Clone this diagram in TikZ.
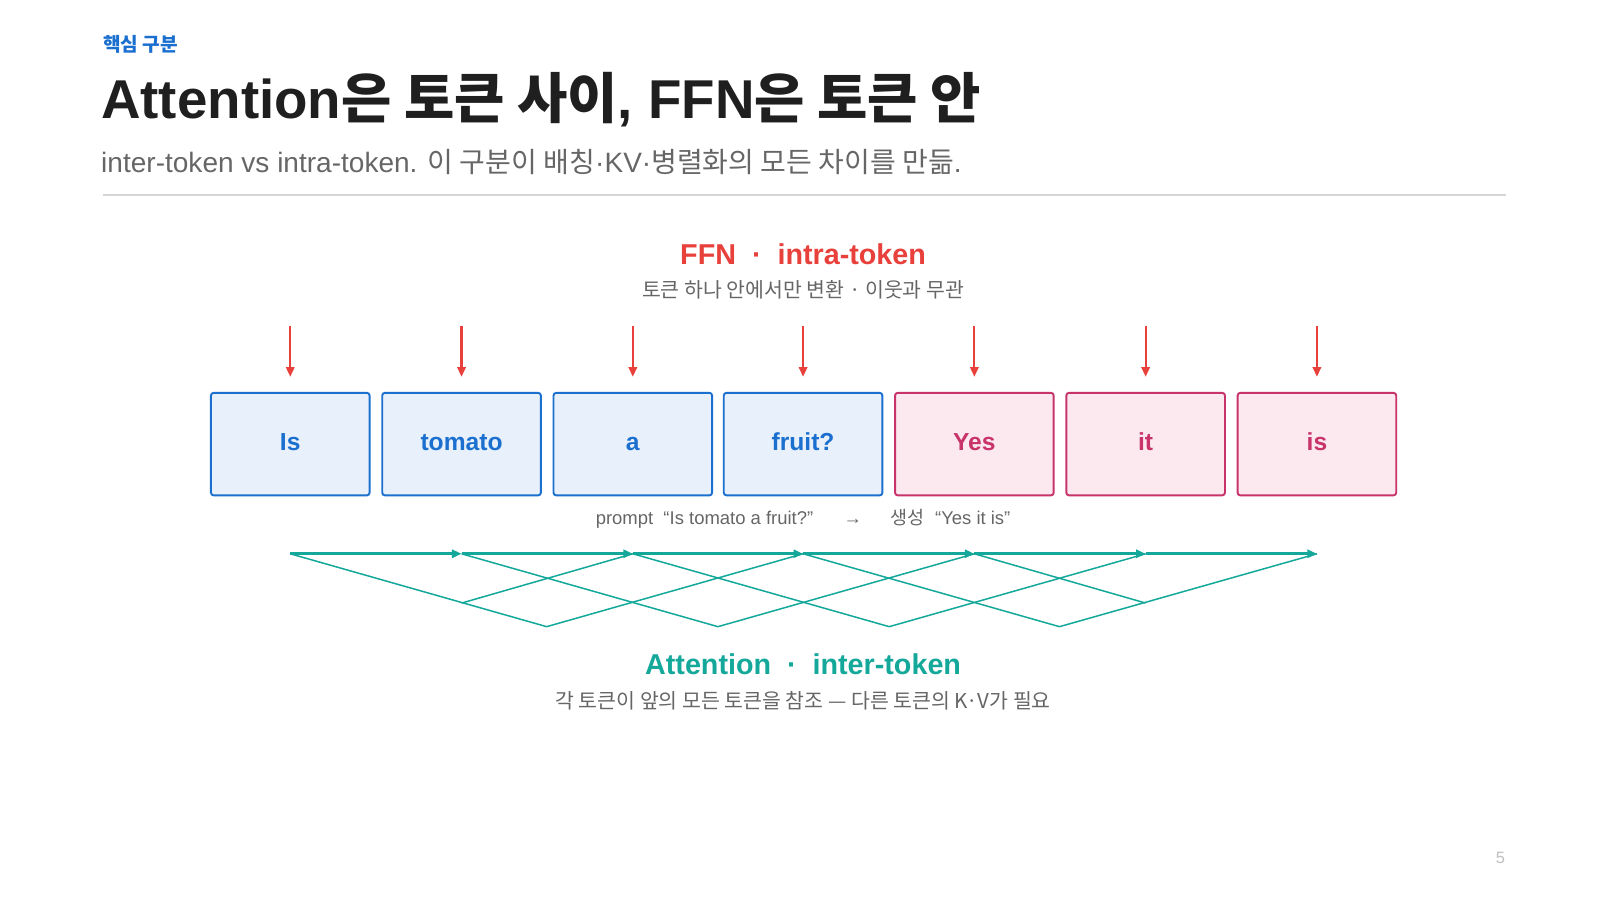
\documentclass[tikz,border=0pt]{standalone}
\usepackage{fontspec}
\setmainfont{Liberation Sans}
\newfontfamily\kr{Noto Sans CJK KR}
\usetikzlibrary{arrows.meta,positioning}
\definecolor{tblue}{HTML}{1A6FCF}
\definecolor{tbluefill}{HTML}{E8F1FB}
\definecolor{tpink}{HTML}{C8336A}
\definecolor{tpinkfill}{HTML}{FCE9F0}
\definecolor{ffnred}{HTML}{E8403A}
\definecolor{attteal}{HTML}{14A89A}
\definecolor{txtgray}{HTML}{666666}
\definecolor{rulegray}{HTML}{D6D6D6}
\tikzset{
  tok/.style={draw, rounded corners=2pt, line width=1.4pt, minimum width=116pt, minimum height=75pt, text height=13pt, text depth=3pt, font=\fontsize{18}{20}\selectfont\bfseries},
  prm/.style={tok, draw=tblue, fill=tbluefill, text=tblue},
  gen/.style={tok, draw=tpink, fill=tpinkfill, text=tpink},
  ffn/.style={draw=ffnred, line width=1.6pt, -{Triangle[length=7pt,width=6pt]}},
  att/.style={draw=attteal, line width=1.1pt},
  nextarr/.style={draw=attteal, line width=2.4pt, -{Triangle[length=7pt,width=6pt]}}
}
\begin{document}
\begin{tikzpicture}[x=0.75pt,y=-0.75pt]
\useasboundingbox (0,0) rectangle (1560,877);
% header
\node[anchor=west, text=tblue, font=\kr\fontsize{14}{16}\selectfont\bfseries] (tag) at (96,43) {핵심 구분};
\node[anchor=west, text=black!88, font=\fontsize{40}{44}\selectfont\bfseries] (title) at (94,97) {Attention{\kr 은 토큰 사이}, FFN{\kr 은 토큰 안}};
\node[anchor=west, text=txtgray, font=\fontsize{20.5}{24}\selectfont] (sub) at (94,158) {inter-token vs intra-token. {\kr 이 구분이 배칭}·KV·{\kr 병렬화의 모든 차이를 만듦}.};
\draw[rulegray, line width=1pt] (100,190) -- (1468,190);
% FFN label
\node[text=ffnred, font=\fontsize{21}{24}\selectfont\bfseries] (ffn) at (783,248) {FFN \ · \ intra-token};
\node[text=txtgray, font=\kr\fontsize{15}{18}\selectfont] (ffnsub) at (783,283) {토큰 하나 안에서만 변환 · 이웃과 무관};
% tokens
\node[prm] (t0) at (283,433) {Is};
\node[prm] (t1) at (450,433) {tomato};
\node[prm] (t2) at (617,433) {a};
\node[prm] (t3) at (783,433) {fruit?};
\node[gen] (t4) at (950,433) {Yes};
\node[gen] (t5) at (1117,433) {it};
\node[gen] (t6) at (1284,433) {is};
\foreach \i in {0,...,6}{
  \coordinate (f\i) at ([yshift=48pt]t\i.north);
  \draw[ffn] (f\i) -- ([yshift=11pt]t\i.north);
  \coordinate (h\i) at ([yshift=-42pt]t\i.south);
}
\node[text=txtgray, font=\fontsize{13.5}{16}\selectfont] (cap) at (783,506) {prompt \ “Is tomato a fruit?” \quad\ → \quad\ {\kr 생성} \ “Yes it is”};
% attention
\foreach \i/\j in {0/1,1/2,2/3,3/4,4/5,5/6}
  \draw[nextarr] (h\i) -- (h\j);
\coordinate (m0) at (533,611);
\coordinate (m1) at (700,611);
\coordinate (m2) at (867,611);
\coordinate (m3) at (1033,611);
\coordinate (k0) at (450,588);
\coordinate (k1) at (1117,588);
\draw[att] (h0) -- (m0) -- (h3);
\draw[att] (h1) -- (m1) -- (h4);
\draw[att] (h2) -- (m2) -- (h5);
\draw[att] (h3) -- (m3) -- (h6);
\draw[att] (k0) -- (h2);
\draw[att] (h4) -- (k1);
\node[text=attteal, font=\fontsize{21}{24}\selectfont\bfseries] (att) at (783,648) {Attention \ · \ inter-token};
\node[text=txtgray, font=\kr\fontsize{15}{18}\selectfont] (attsub) at (783,683) {각 토큰이 앞의 모든 토큰을 참조 — 다른 토큰의 K·V가 필요};
\node[text=black!25, font=\fontsize{12}{14}\selectfont] (page) at (1463,836) {5};
\end{tikzpicture}
\end{document}
